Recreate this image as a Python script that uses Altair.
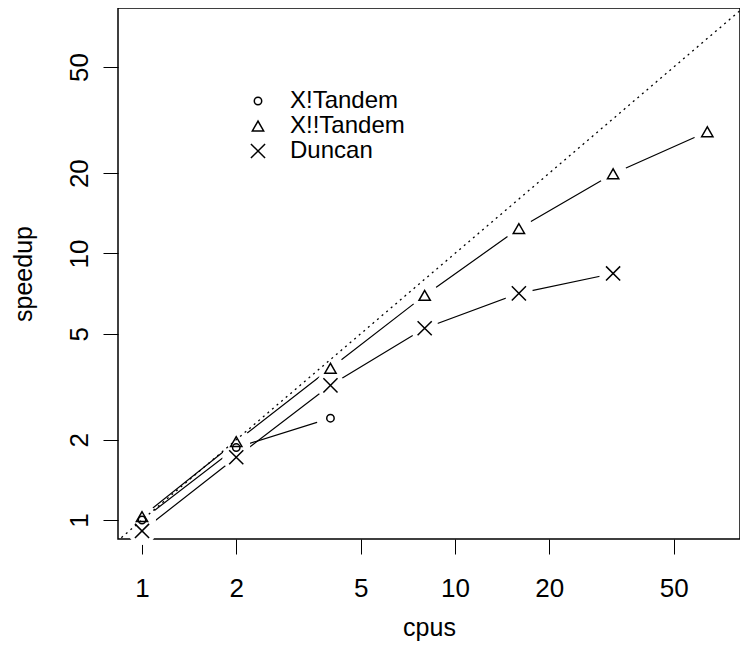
import altair as alt
import pandas as pd

# ---- data ----
series_names = ["X!Tandem", "X!!Tandem", "Duncan"]
cpus_xtandem = [1, 2, 4]
speedup_xtandem = [1.0, 1.87, 2.41]
cpus_xxtandem = [1, 2, 4, 8, 16, 32, 64]
speedup_xxtandem = [1.03, 1.97, 3.71, 6.96, 12.4, 19.9, 28.6]
cpus_duncan = [1, 2, 4, 8, 16, 32]
speedup_duncan = [0.91, 1.72, 3.2, 5.24, 7.08, 8.41]
ideal_cpus = [0.1, 1000]
tick_values = [1, 2, 5, 10, 20, 50]

rows = []
for name, xs, ys in [
    ("X!Tandem", cpus_xtandem, speedup_xtandem),
    ("X!!Tandem", cpus_xxtandem, speedup_xxtandem),
    ("Duncan", cpus_duncan, speedup_duncan),
]:
    for x, y in zip(xs, ys):
        rows.append({"series": name, "cpus": x, "speedup": y})
df = pd.DataFrame(rows)
ideal = pd.DataFrame({"cpus": ideal_cpus, "speedup": ideal_cpus})

FONT = "Liberation Sans"
xscale = alt.Scale(type="log", domain=[0.838, 81.4], nice=False, zero=False)
yscale = alt.Scale(type="log", domain=[0.849, 83.27], nice=False, zero=False)

xaxis = alt.Axis(values=tick_values, format="~g", title="cpus", grid=False,
                 domain=False, tickSize=15, tickColor="black", tickWidth=1,
                 labelFontSize=26, labelFont=FONT, labelColor="black",
                 labelPadding=21, labelFlush=False, labelOverlap=False,
                 titleFontSize=25, titleFont=FONT, titleFontWeight="normal",
                 titleColor="black", titleY=96, titleBaseline="alphabetic")
yaxis = alt.Axis(values=tick_values, format="~g", title="speedup", grid=False,
                 domain=False, tickSize=15, tickColor="black", tickWidth=1,
                 labelFontSize=26, labelFont=FONT, labelColor="black",
                 labelAngle=270, labelAlign="center", labelBaseline="alphabetic",
                 labelPadding=16, labelFlush=False, labelOverlap=False,
                 titleFontSize=25, titleFont=FONT, titleFontWeight="normal",
                 titleColor="black", titleAngle=270, titleX=-87,
                 titleBaseline="alphabetic")

X = alt.X("cpus:Q", scale=xscale, axis=xaxis)
Y = alt.Y("speedup:Q", scale=yscale, axis=yaxis)

cross_path = "M-1,-1L1,1M-1,1L1,-1"

lines = alt.Chart(df).mark_line(color="black", strokeWidth=1.2).encode(
    x=X, y=Y, detail="series:N", order="cpus:Q")

# white discs under the markers leave the small gaps of R's type="b" lines
halos = alt.Chart(df).mark_point(filled=True, fill="white", stroke="white",
                                 strokeWidth=0, opacity=1, fillOpacity=1,
                                 size=780, shape="circle").encode(x=X, y=Y)

diag = alt.Chart(ideal).mark_line(color="black", strokeWidth=1.3,
                                  strokeDash=[2, 4], clip=True).encode(x=X, y=Y)

legend = alt.Legend(title=None, orient="none", legendX=128, legendY=81,
                    labelFontSize=24, labelFont=FONT, labelColor="black",
                    labelOffset=20, rowPadding=1, symbolStrokeColor="black",
                    symbolStrokeWidth=1.5, symbolFillColor="transparent")

points = alt.Chart(df).mark_point(filled=False, color="black", strokeWidth=1.5,
                                  opacity=1).encode(
    x=X, y=Y,
    shape=alt.Shape("series:N",
                    scale=alt.Scale(domain=series_names,
                                    range=["circle", "triangle-up", cross_path]),
                    legend=legend),
    size=alt.Size("series:N",
                  scale=alt.Scale(domain=series_names, range=[55, 200, 150]),
                  legend=legend),
)

chart = alt.layer(lines, halos, diag, points).properties(
    width=622, height=531,
    autosize=alt.AutoSizeParams(type="none"),
    padding={"left": 110, "top": 0, "right": 0, "bottom": 104},
    background="white",
).configure(font=FONT).configure_view(stroke="black", strokeWidth=1.5)

chart.save("out.html", embed_options={"renderer": "svg", "actions": False})
